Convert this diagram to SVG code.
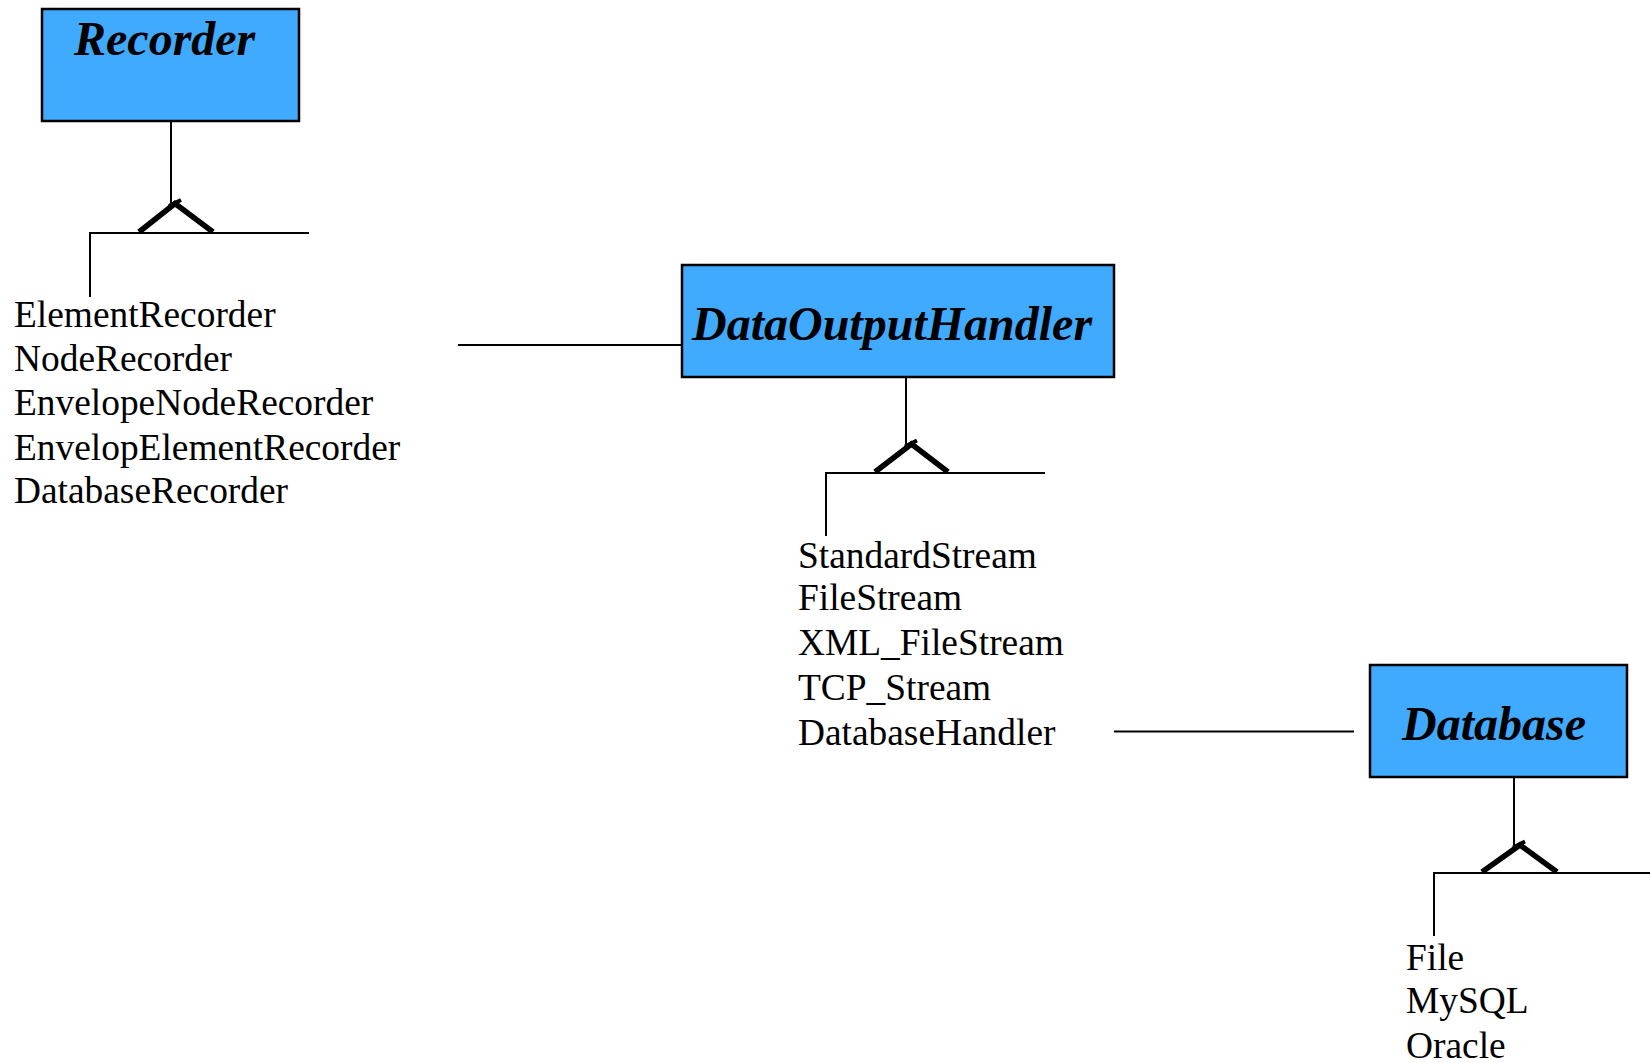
<svg xmlns="http://www.w3.org/2000/svg" width="1650" height="1063" viewBox="0 0 1650 1063">
<style>
.box{fill:#40AAFF;stroke:#000;stroke-width:2.5}
.title{font-family:"Liberation Serif","Times New Roman",serif;font-weight:bold;font-style:italic;font-size:48px;fill:#000}
.item{font-family:"Liberation Serif","Times New Roman",serif;font-size:37.4px;fill:#000}
.ln{stroke:#000;stroke-width:2;fill:none}
.gen{stroke:#000;stroke-width:5.5;fill:none;stroke-linejoin:miter}
.tick{stroke:#000;stroke-width:4;fill:none}
</style>
<rect width="1650" height="1063" fill="#fff"/>
<g id="connectors">
  <!-- Recorder generalization -->
  <line class="ln" x1="171" y1="121" x2="171" y2="204"/>
  <polyline class="gen" points="139,232 175,203.5 213,232"/>
  <line class="tick" x1="169" y1="206" x2="181" y2="200"/>
  <line class="ln" x1="90" y1="233" x2="309" y2="233"/>
  <line class="ln" x1="90" y1="232" x2="90" y2="297"/>
  <!-- Recorder list to DataOutputHandler -->
  <line class="ln" x1="458" y1="345" x2="682" y2="345"/>
  <!-- DataOutputHandler generalization -->
  <line class="ln" x1="906" y1="377" x2="906" y2="444"/>
  <polyline class="gen" points="875,472 911.5,444 948,472"/>
  <line class="tick" x1="905" y1="446.5" x2="917" y2="440.5"/>
  <line class="ln" x1="826" y1="473" x2="1045" y2="473"/>
  <line class="ln" x1="826" y1="472" x2="826" y2="536"/>
  <!-- DatabaseHandler to Database -->
  <line class="ln" x1="1114" y1="731.5" x2="1354" y2="731.5"/>
  <!-- Database generalization -->
  <line class="ln" x1="1514" y1="777" x2="1514" y2="845"/>
  <polyline class="gen" points="1482,872 1520,845 1557,872"/>
  <line class="tick" x1="1513" y1="847.5" x2="1525" y2="841.5"/>
  <line class="ln" x1="1434" y1="873" x2="1650" y2="873"/>
  <line class="ln" x1="1434" y1="872" x2="1434" y2="936"/>
</g>
<g id="recorder">
  <rect class="box" x="42" y="9" width="257" height="112"/>
  <text class="title" x="74" y="55">Recorder</text>
</g>
<g id="recorder-list">
  <text class="item" x="14" y="327">ElementRecorder</text>
  <text class="item" x="14" y="371">NodeRecorder</text>
  <text class="item" x="14" y="415">EnvelopeNodeRecorder</text>
  <text class="item" x="14" y="460">EnvelopElementRecorder</text>
  <text class="item" x="14" y="503">DatabaseRecorder</text>
</g>
<g id="dataoutputhandler">
  <rect class="box" x="682" y="265" width="432" height="112"/>
  <text class="title" x="692" y="340">DataOutputHandler</text>
</g>
<g id="stream-list">
  <text class="item" x="798" y="568">StandardStream</text>
  <text class="item" x="798" y="610">FileStream</text>
  <text class="item" x="798" y="655">XML_FileStream</text>
  <text class="item" x="798" y="700">TCP_Stream</text>
  <text class="item" x="798" y="745">DatabaseHandler</text>
</g>
<g id="database">
  <rect class="box" x="1370" y="665" width="257" height="112"/>
  <text class="title" x="1402" y="740">Database</text>
</g>
<g id="database-list">
  <text class="item" x="1406" y="970">File</text>
  <text class="item" x="1406" y="1013">MySQL</text>
  <text class="item" x="1406" y="1058">Oracle</text>
</g>
</svg>
